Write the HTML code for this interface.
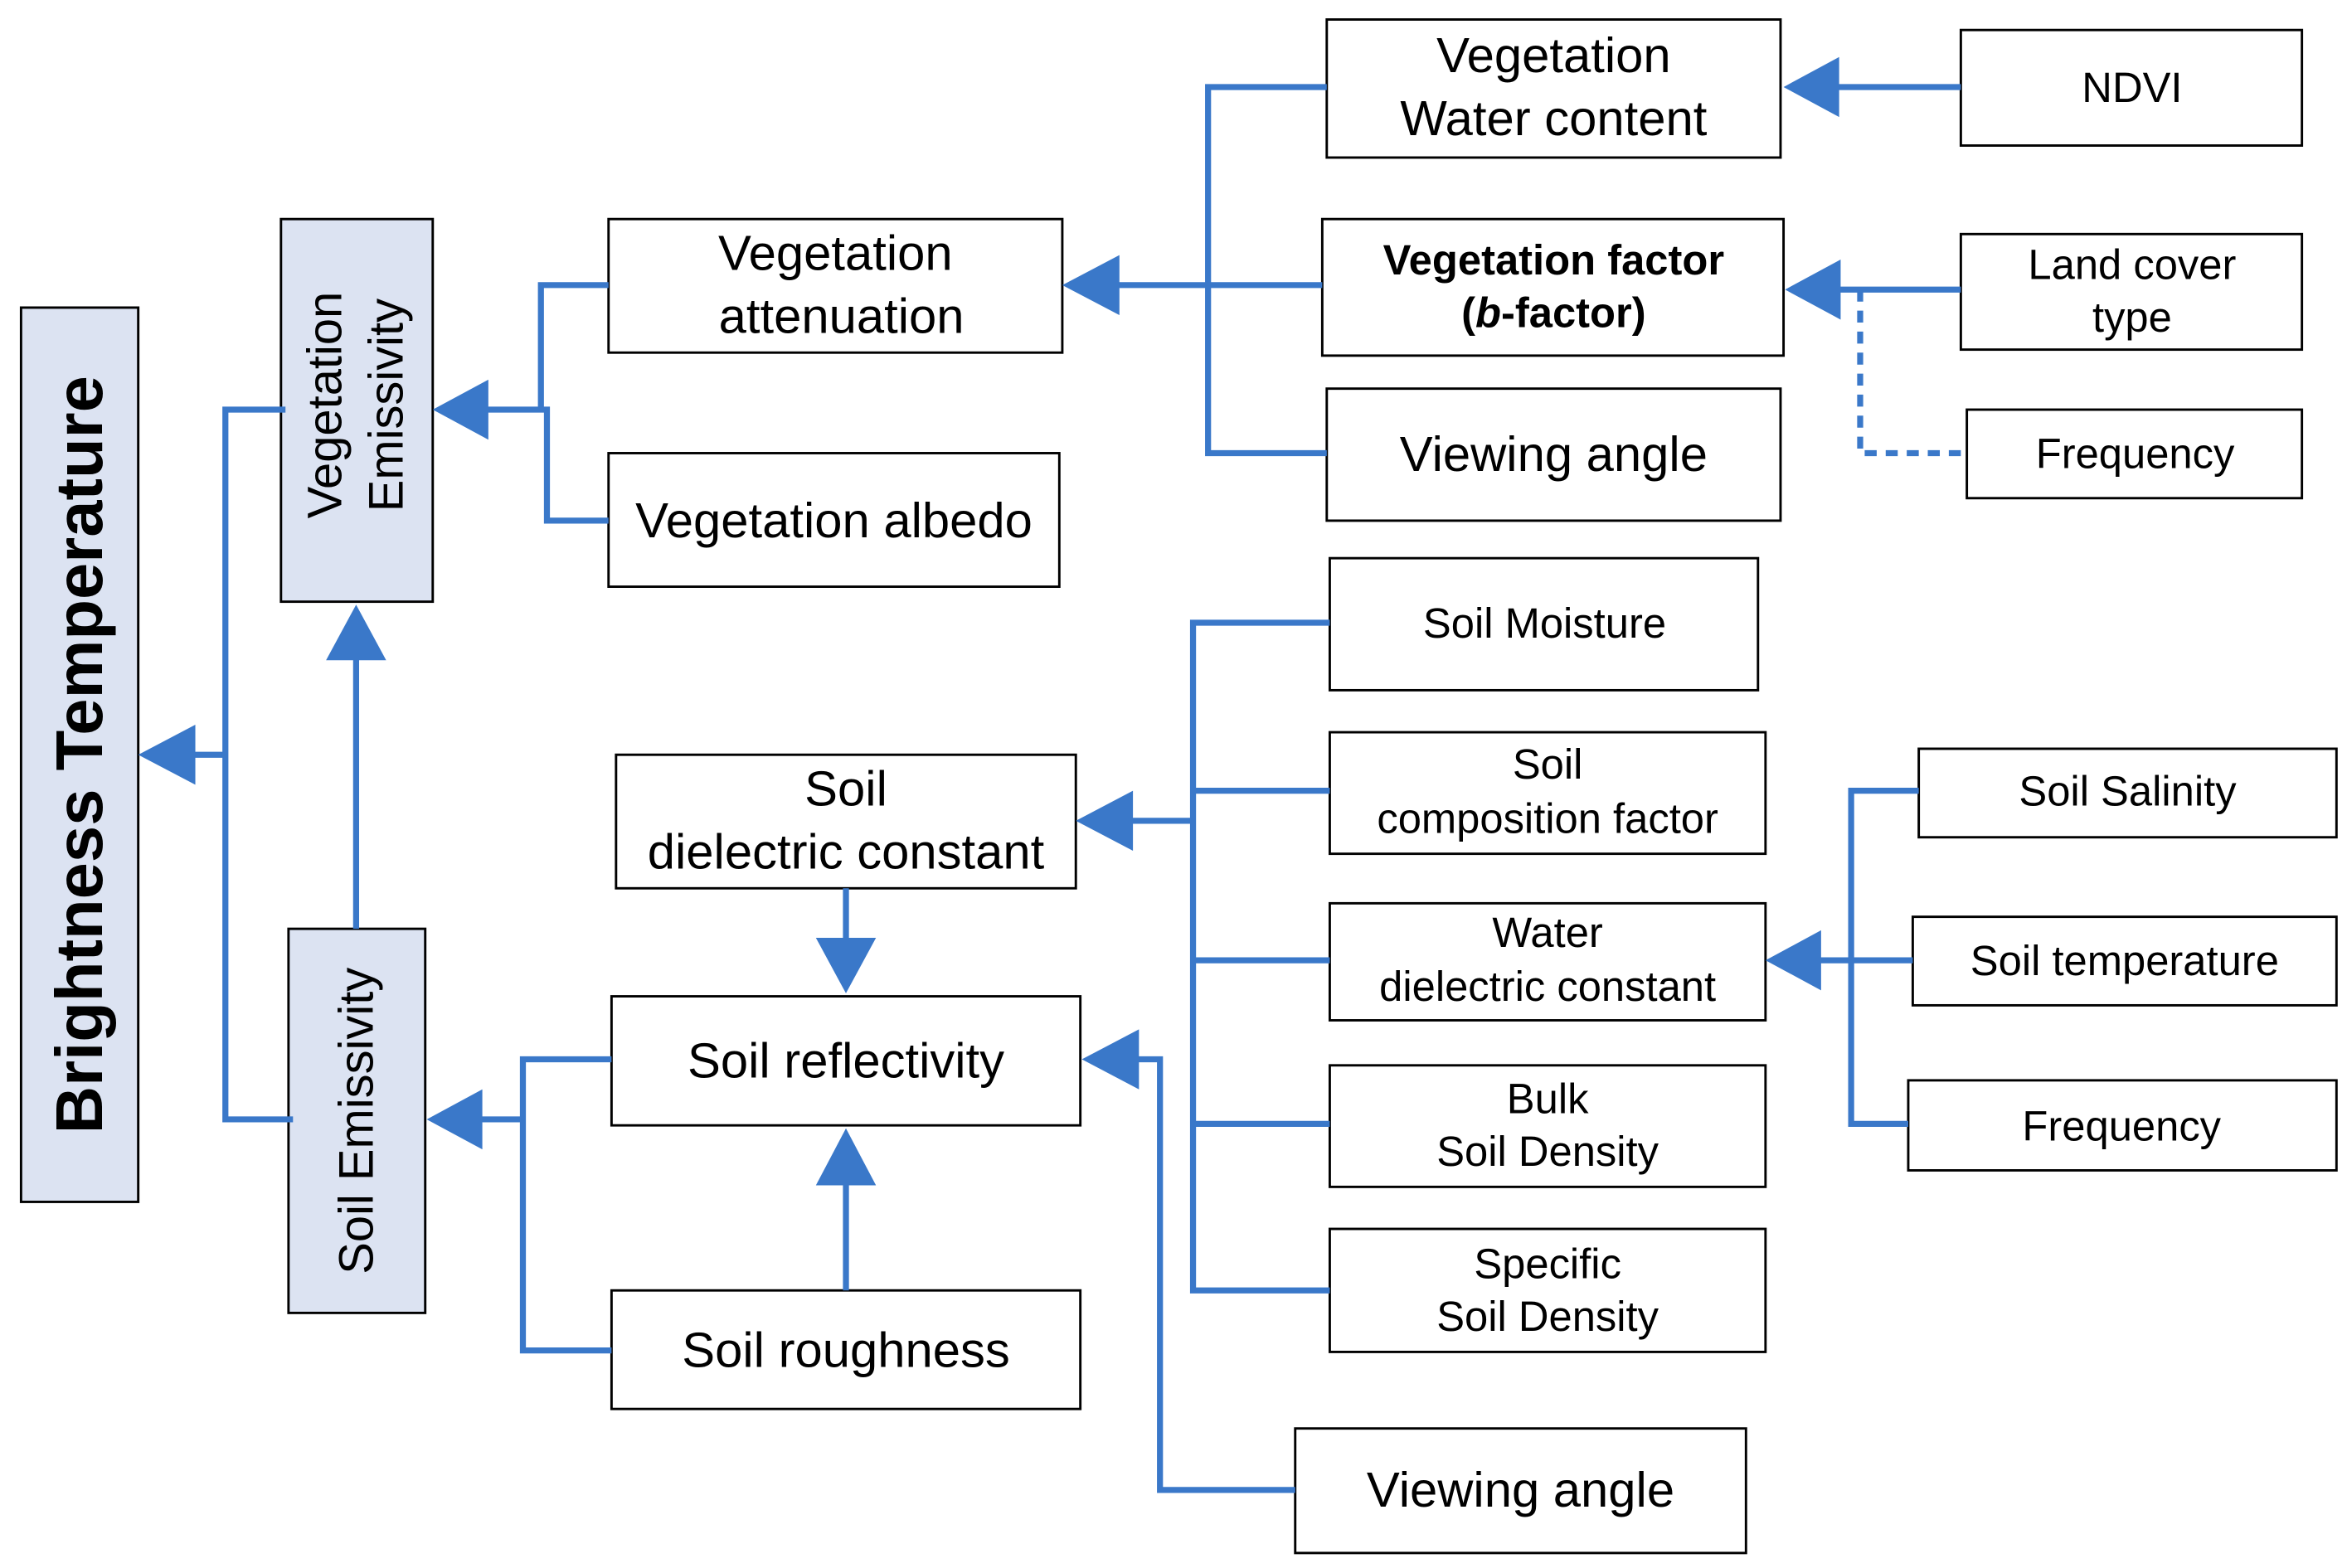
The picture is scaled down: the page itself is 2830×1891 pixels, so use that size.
<!DOCTYPE html>
<html><head><meta charset="utf-8"><style>
html,body{margin:0;padding:0;background:#fff;}
svg{display:block;}
text{font-family:"Liberation Sans",Arial,sans-serif;fill:#000;}
</style></head><body>
<svg width="2830" height="1891" viewBox="0 0 1562 1045" preserveAspectRatio="none" xmlns="http://www.w3.org/2000/svg">
<g stroke="#000" stroke-width="1.6">
<rect x="14" y="205" width="78" height="596" fill="#dce3f2"/>
<rect x="187" y="146" width="101" height="255" fill="#dce3f2"/>
<rect x="192" y="619" width="91" height="256" fill="#dce3f2"/>
<g fill="#fff">
<rect x="405" y="146" width="302" height="89"/>
<rect x="405" y="302" width="300" height="89"/>
<rect x="883" y="13" width="302" height="92"/>
<rect x="880" y="146" width="307" height="91"/>
<rect x="883" y="259" width="302" height="88"/>
<rect x="1305" y="20" width="227" height="77"/>
<rect x="1305" y="156" width="227" height="77"/>
<rect x="1309" y="273" width="223" height="59"/>
<rect x="885" y="372" width="285" height="88"/>
<rect x="885" y="488" width="290" height="81"/>
<rect x="885" y="602" width="290" height="78"/>
<rect x="885" y="710" width="290" height="81"/>
<rect x="885" y="819" width="290" height="82"/>
<rect x="862" y="952" width="300" height="83"/>
<rect x="410" y="503" width="306" height="89"/>
<rect x="407" y="664" width="312" height="86"/>
<rect x="407" y="860" width="312" height="79"/>
<rect x="1277" y="499" width="278" height="59"/>
<rect x="1273" y="611" width="282" height="59"/>
<rect x="1270" y="720" width="285" height="60"/>
</g></g>

<g stroke="#3a78c9" stroke-width="4" fill="none">
<polyline points="190,273 150,273 150,746 195,746"/>
<line x1="150" y1="503" x2="125" y2="503"/>
<line x1="237" y1="619" x2="237" y2="435"/>
<polyline points="405,190 360,190 360,273"/>
<polyline points="320,273 364,273 364,347 405,347"/>
<line x1="740" y1="190" x2="880" y2="190"/>
<polyline points="883,58 804,58 804,302 883,302"/>
<line x1="1220" y1="58" x2="1305" y2="58"/>
<line x1="1220" y1="193" x2="1305" y2="193"/>
<polyline points="1238,193 1238,302 1309,302" stroke-dasharray="8,6"/>
<line x1="750" y1="547" x2="794" y2="547"/>
<polyline points="885,415 794,415 794,860 885,860"/>
<line x1="794" y1="527" x2="885" y2="527"/>
<line x1="794" y1="640" x2="885" y2="640"/>
<line x1="794" y1="749" x2="885" y2="749"/>
<line x1="1208" y1="640" x2="1273" y2="640"/>
<polyline points="1277,527 1232,527 1232,749 1270,749"/>
<line x1="563" y1="592" x2="563" y2="630"/>
<line x1="563" y1="860" x2="563" y2="785"/>
<line x1="318" y1="746" x2="348" y2="746"/>
<polyline points="407,706 348,706 348,900 407,900"/>
<polyline points="862,993 772,993 772,706 755,706"/>
</g>
<g fill="#3a78c9">
<polygon points="92,503 130,483 130,523"/>
<polygon points="237,403 217,440 257,440"/>
<polygon points="288,273 325,253 325,293"/>
<polygon points="707,190 745,170 745,210"/>
<polygon points="1187,58 1224,38 1224,78"/>
<polygon points="1188,193 1225,173 1225,213"/>
<polygon points="716,547 754,527 754,567"/>
<polygon points="1175,640 1212,620 1212,660"/>
<polygon points="563,662 543,625 583,625"/>
<polygon points="563,752 543,790 583,790"/>
<polygon points="284,746 321,726 321,766"/>
<polygon points="720,706 758,686 758,726"/>
</g>

<text transform="translate(68,503) rotate(-90)" text-anchor="middle" font-size="44" font-weight="bold">Brightness Temperature</text>
<text transform="translate(227,270) rotate(-90)" text-anchor="middle" font-size="32">Vegetation</text>
<text transform="translate(268,270) rotate(-90)" text-anchor="middle" font-size="32">Emissivity</text>
<text transform="translate(248,747) rotate(-90)" text-anchor="middle" font-size="32">Soil Emissivity</text>

<g text-anchor="middle" font-size="33">
<text x="556" y="180">Vegetation</text>
<text x="560" y="222">attenuation</text>
<text x="555" y="358">Vegetation albedo</text>
<text x="1034" y="48">Vegetation</text>
<text x="1034" y="90">Water content</text>
<text x="1034" y="314">Viewing angle</text>
<text x="563" y="537">Soil</text>
<text x="563" y="579">dielectric constant</text>
<text x="563" y="718">Soil reflectivity</text>
<text x="563" y="911">Soil roughness</text>
<text x="1012" y="1004">Viewing angle</text>
</g>
<g text-anchor="middle" font-size="28">
<text x="1034" y="183" font-weight="bold">Vegetation factor</text>
<text x="1034" y="218" font-weight="bold">(<tspan font-style="italic">b</tspan>-factor)</text>
<text x="1419" y="68">NDVI</text>
<text x="1419" y="186">Land cover</text>
<text x="1419" y="221">type</text>
<text x="1421" y="312">Frequency</text>
<text x="1028" y="425">Soil Moisture</text>
<text x="1030" y="519">Soil</text>
<text x="1030" y="555">composition factor</text>
<text x="1030" y="631">Water</text>
<text x="1030" y="667">dielectric constant</text>
<text x="1030" y="742">Bulk</text>
<text x="1030" y="777">Soil Density</text>
<text x="1030" y="852">Specific</text>
<text x="1030" y="887">Soil Density</text>
<text x="1416" y="537">Soil Salinity</text>
<text x="1414" y="650">Soil temperature</text>
<text x="1412" y="760">Frequency</text>
</g>
</svg>
</body></html>
